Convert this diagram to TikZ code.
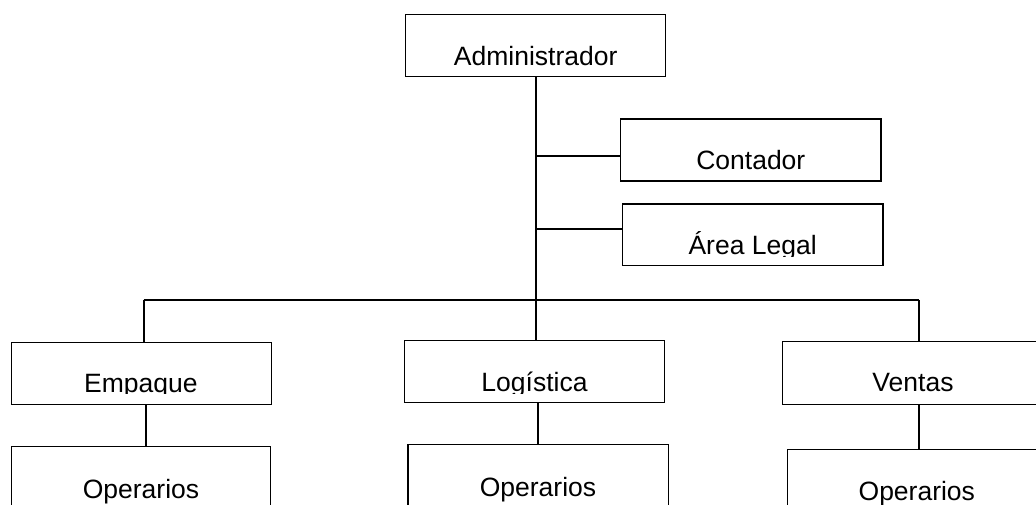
\documentclass[tikz,border=0pt]{standalone}
\usepackage{fontspec}
\setmainfont{Liberation Sans}
\begin{document}
\begin{tikzpicture}[x=1pt,y=-1pt,
  box/.style={draw=black,line width=1.1pt,rectangle,inner sep=0pt,minimum width=260pt,minimum height=62.4pt},
  lbl/.style={inner sep=0pt,anchor=base,font=\fontsize{26.5}{31}\selectfont},
  conn/.style={draw=black,line width=1.9pt}]
\clip (0,0) rectangle (1036,505);
\fill[white] (0,0) rectangle (1036,505);
% boxes
\node[box] (adm) at (535.7,45.5) {};
\node[box,minimum width=260.3pt,minimum height=62pt] (cont) at (750.85,150) {};
\node[box,minimum width=260.7pt,minimum height=61.7pt] (legal) at (752.65,234.85) {};
\node[box] (emp) at (141.7,373.5) {};
\node[box,minimum width=260.4pt] (log) at (534.5,371.5) {};
\node[box,minimum width=290pt,minimum height=63pt] (ven) at (927.7,372.8) {};
\node[box,minimum width=258.6pt] (opE) at (141,477.9) {};
\node[box,minimum width=260.3pt] (opL) at (538.15,475.9) {};
\node[box,minimum width=290pt] (opV) at (932.7,480.5) {};
% texts
\node[lbl] (admt) at (535.7,65.7) {Administrador};
\node[lbl] (contt) at (750.8,170) {Contador};
\begin{scope}
\clip (600,190) rectangle (900,256);
\node[lbl] (legalt) at (752.6,254.3) {Área Legal};
\end{scope}
\begin{scope}
\clip (0,330) rectangle (1036,393.3);
\node[lbl] (empt) at (140.8,392.6) {Empaque};
\node[lbl] (logt) at (534.5,391.7) {Logística};
\end{scope}
\node[lbl] (vent) at (913,391.7) {Ventas};
\node[lbl] (opEt) at (141,498.3) {Operarios};
\node[lbl] (opLt) at (538,496.7) {Operarios};
\node[lbl] (opVt) at (916.8,500) {Operarios};
% connectors
\coordinate (hl) at (143.7,300);
\coordinate (hr) at (919,300);
\draw[conn] (hl) -- (hr);
\draw[conn] (adm.south) -- (adm.south |- log.north);
\draw[conn] ([yshift=-5.7pt]cont.west) -- ([yshift=-5.7pt]cont.west -| adm.south);
\draw[conn] ([yshift=6.1pt]legal.west) -- ([yshift=6.1pt]legal.west -| adm.south);
\draw[conn] (hl) -- (hl |- emp.north);
\draw[conn] (hr) -- (hr |- ven.north);
\draw[conn] ([xshift=4pt]emp.south) -- ([xshift=4pt]emp.south |- opE.north);
\draw[conn] (opL.north) -- (opL.north |- log.south);
\draw[conn] (hr |- opV.north) -- (hr |- ven.south);
\end{tikzpicture}
\end{document}
